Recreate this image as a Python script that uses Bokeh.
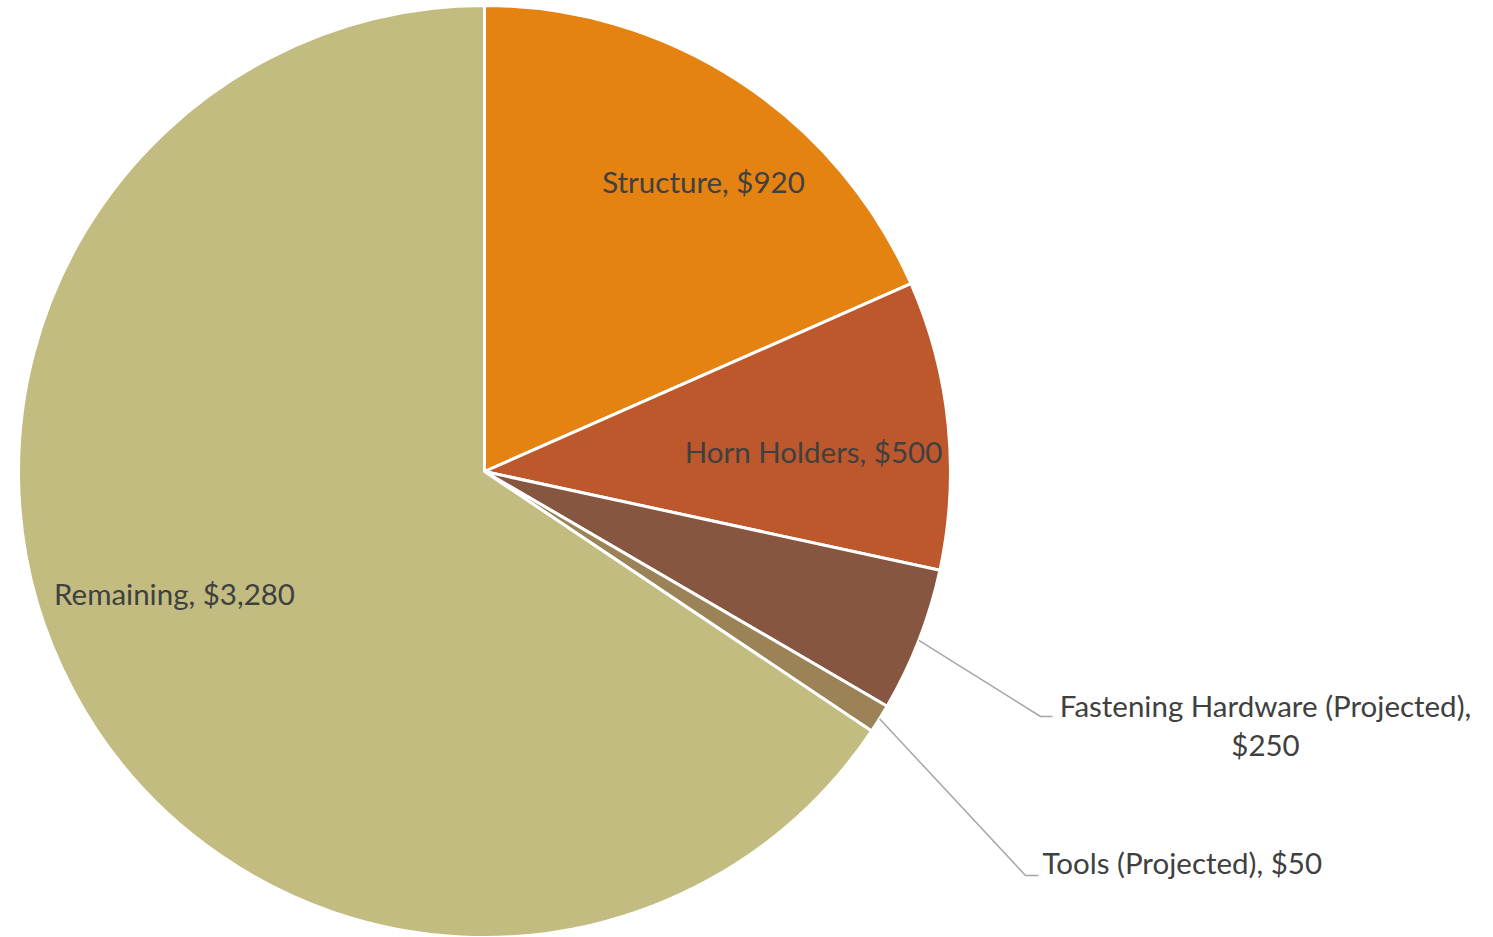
import math
from bokeh.plotting import figure
from bokeh.models import Range1d
from bokeh.core.properties import value
from bokeh.embed import file_html
from bokeh.resources import INLINE

# ---- data ----
categories = ["Structure", "Horn Holders", "Fastening Hardware (Projected)", "Tools (Projected)", "Remaining"]
amounts = [920, 500, 250, 50, 3280]
colors = ["#E48312", "#BD582C", "#865640", "#9B8357", "#C2BC80"]

# ---- layout (pixel space, y measured downward from the top) ----
W, H = 1493, 937
CX, CY, R = 484, 471, 466

def Y(py):
    return H - py

p = figure(width=W, height=H, output_backend="svg", toolbar_location=None,
           x_range=Range1d(0, W), y_range=Range1d(0, H), min_border=0)
p.axis.visible = False
p.grid.visible = False
p.outline_line_color = None
p.background_fill_color = "white"
p.border_fill_color = "white"

total = sum(amounts)
starts, ends, mids = [], [], []
cum = 0.0
for a in amounts:
    s = math.pi / 2 - 2 * math.pi * cum / total
    cum += a
    e = math.pi / 2 - 2 * math.pi * cum / total
    starts.append(s)
    ends.append(e)
    mids.append((s + e) / 2)

p.wedge(x=[CX] * len(amounts), y=[Y(CY)] * len(amounts), radius=R,
        start_angle=starts, end_angle=ends, direction="clock",
        fill_color=colors, line_color="white", line_width=3)

FONT = value("Lato")
FS = "29.5px"
TC = "#404040"

def label_text(i):
    return f"{categories[i]}, ${amounts[i]:,}"

# inside labels
inside = {0: (703, 181), 1: (813, 451), 4: (174, 593)}
for i, (lx, ly) in inside.items():
    p.text(x=[lx], y=[Y(ly)], text=[label_text(i)], text_font=FONT, text_font_size=FS,
           text_color=TC, text_align="center", text_baseline="middle")

# outside labels with leader lines
outside = {2: (1040, 716, 1052), 3: (1025, 875, 1038)}
for i, (ex, ey, hx) in outside.items():
    sx = CX + R * math.cos(mids[i])
    sy = CY - R * math.sin(mids[i])
    p.line(x=[sx, ex, hx], y=[Y(sy), Y(ey), Y(ey)], line_color="#A6A6A6", line_width=1.5)

p.text(x=[1265], y=[Y(705)], text=["Fastening Hardware (Projected),"], text_font=FONT,
       text_font_size=FS, text_color=TC, text_align="center", text_baseline="middle")
p.text(x=[1265], y=[Y(744)], text=[f"${amounts[2]:,}"], text_font=FONT,
       text_font_size=FS, text_color=TC, text_align="center", text_baseline="middle")
p.text(x=[1042], y=[Y(862)], text=[label_text(3)], text_font=FONT,
       text_font_size=FS, text_color=TC, text_align="left", text_baseline="middle")

open("out.html", "w").write(file_html(p, INLINE))
